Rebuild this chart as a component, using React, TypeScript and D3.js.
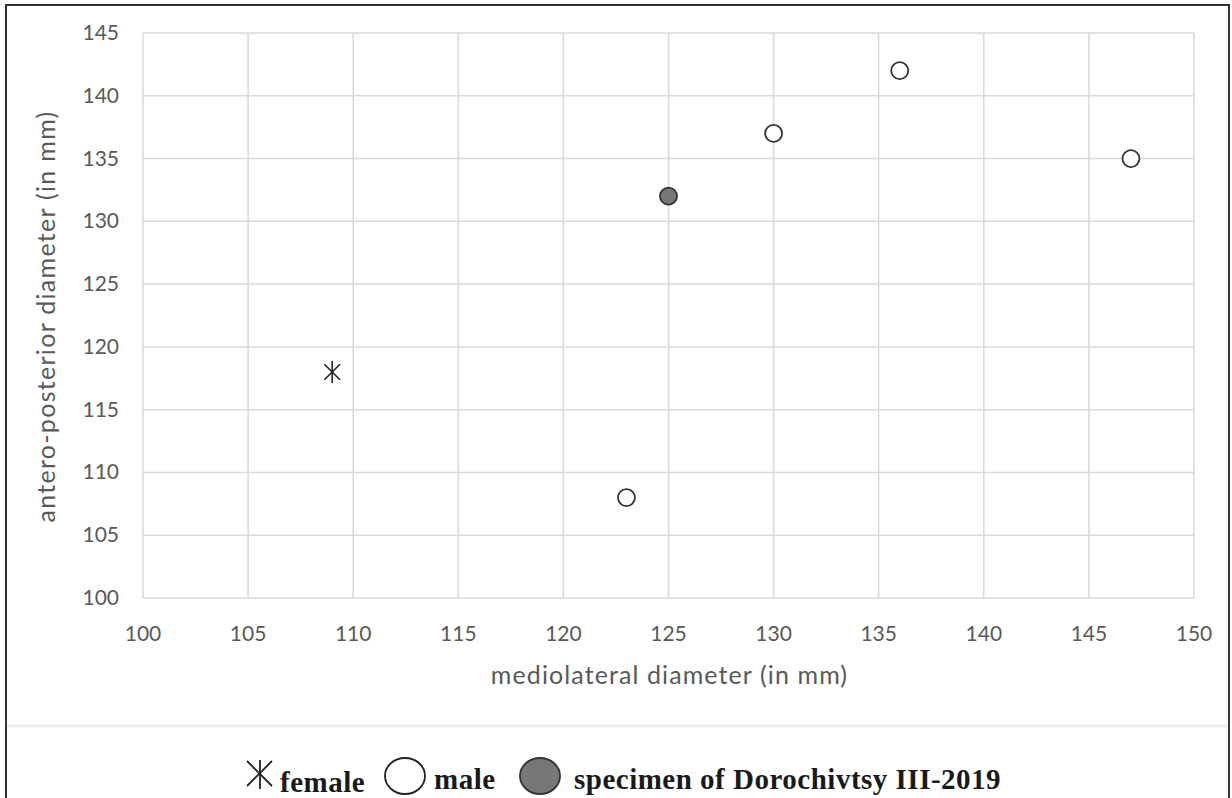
import React, { useEffect } from "react";
import * as d3 from "d3";

const xTicks = [100, 105, 110, 115, 120, 125, 130, 135, 140, 145, 150];
const yTicks = [100, 105, 110, 115, 120, 125, 130, 135, 140, 145];

const femaleX = [109];
const femaleY = [118];
const maleX = [123, 130, 136, 147];
const maleY = [108, 137, 142, 135];
const specimenX = [125];
const specimenY = [132];

const xTitle = "mediolateral diameter (in mm)";
const yTitle = "antero-posterior diameter (in mm)";
const legendLabels = ["female", "male", "specimen of Dorochivtsy III-2019"];

const W = 1232;
const H = 798;

const x = d3.scaleLinear().domain([100, 150]).range([143, 1194]);
const y = d3.scaleLinear().domain([100, 145]).range([598, 33]);

const textColor = "#595959";
const gridColor = "#d9d9d9";
const tickFont = "Lato, 'Open Sans', sans-serif";
const legendFont = "'Liberation Serif', 'Times New Roman', serif";

function Asterisk({ cx, cy, r }: { cx: number; cy: number; r: number }) {
  const d = r * Math.SQRT1_2;
  return (
    <g stroke="#222" strokeWidth={1.6}>
      <line x1={cx} y1={cy - r} x2={cx} y2={cy + r} />
      <line x1={cx - d} y1={cy - d} x2={cx + d} y2={cy + d} />
      <line x1={cx - d} y1={cy + d} x2={cx + d} y2={cy - d} />
    </g>
  );
}

export default function App() {
  useEffect(() => {
    document.body.style.margin = "0";
    document.body.style.overflow = "hidden";
  }, []);

  const [x0, x1] = x.range();
  const [y0, y1] = y.range();

  return (
    <svg
      width={W}
      height={H}
      style={{ position: "absolute", left: 0, top: 0, background: "#fff" }}
    >
      <rect x={0} y={0} width={W} height={H} fill="#fff" />
      {/* outer frame */}
      <rect x={6} y={5} width={1223} height={H + 20} fill="none" stroke="#333" strokeWidth={2} />
      {/* faint separator */}
      <line x1={7} x2={1228} y1={726} y2={726} stroke="#eeeeee" strokeWidth={3} />

      {/* grid */}
      <g>
        {xTicks.map((t) => (
          <line key={"gx" + t} x1={x(t)} x2={x(t)} y1={y1} y2={y0} stroke={gridColor} strokeWidth={1.5} />
        ))}
        {yTicks.map((t) => (
          <line key={"gy" + t} x1={x0} x2={x1} y1={y(t)} y2={y(t)} stroke={gridColor} strokeWidth={1.5} />
        ))}
      </g>

      {/* tick labels */}
      <g fontFamily={tickFont} fontSize={21} fill={textColor}>
        {xTicks.map((t) => (
          <text key={"tx" + t} x={x(t)} y={y0 + 43} textAnchor="middle">
            {t}
          </text>
        ))}
        {yTicks.map((t) => (
          <text key={"ty" + t} x={x0 - 24} y={y(t) + 7} textAnchor="end">
            {t}
          </text>
        ))}
      </g>

      {/* axis titles */}
      <text
        x={(x0 + x1) / 2 + 1}
        y={684}
        textAnchor="middle"
        fontFamily={tickFont}
        fontSize={25}
        fill={textColor}
        letterSpacing={1.1}
      >
        {xTitle}
      </text>
      <text
        transform={`translate(55, ${(y0 + y1) / 2 + 1}) rotate(-90)`}
        textAnchor="middle"
        fontFamily={tickFont}
        fontSize={25}
        fill={textColor}
        letterSpacing={1.3}
      >
        {yTitle}
      </text>

      {/* data */}
      {femaleX.map((v, i) => (
        <Asterisk key={"f" + i} cx={x(v)} cy={y(femaleY[i])} r={11} />
      ))}
      {maleX.map((v, i) => (
        <circle key={"m" + i} cx={x(v)} cy={y(maleY[i])} r={8.5} fill="#fff" stroke="#333" strokeWidth={1.8} />
      ))}
      {specimenX.map((v, i) => (
        <circle key={"s" + i} cx={x(v)} cy={y(specimenY[i])} r={8.5} fill="#777" stroke="#333" strokeWidth={1.8} />
      ))}

      {/* legend */}
      <g fontFamily={legendFont} fontWeight="bold" fontSize={29} fill="#1a1a1a" letterSpacing={0.5}>
        <g stroke="#222" strokeWidth={1.8}>
          <line x1={260} y1={760} x2={260} y2={789} />
          <line x1={247} y1={786} x2={272} y2={761} />
          <line x1={247} y1={761} x2={272} y2={786} />
        </g>
        <text x={280} y={792}>{legendLabels[0]}</text>
        <ellipse cx={405} cy={776} rx={20} ry={18} fill="#fff" stroke="#222" strokeWidth={1.8} />
        <text x={434} y={789}>{legendLabels[1]}</text>
        <ellipse cx={540} cy={776} rx={20} ry={18} fill="#777" stroke="#333" strokeWidth={1.8} />
        <text x={574} y={789}>{legendLabels[2]}</text>
      </g>
    </svg>
  );
}
